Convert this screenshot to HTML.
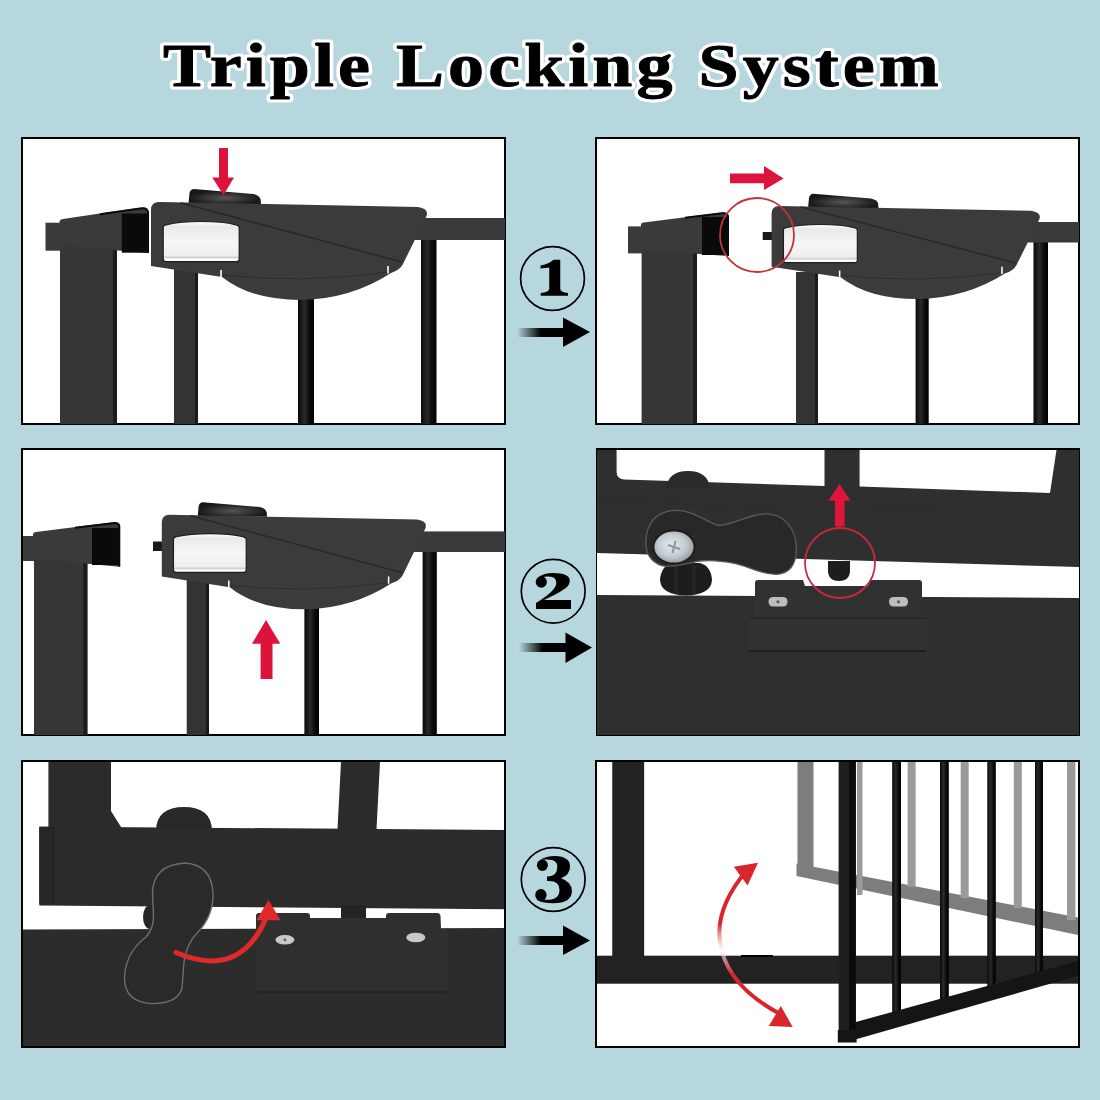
<!DOCTYPE html>
<html><head><meta charset="utf-8">
<style>
html,body{margin:0;padding:0;}
body{width:1100px;height:1100px;background:#b7d7df;overflow:hidden;position:relative;}
svg{position:absolute;left:0;top:0;}
</style></head><body>
<svg width="1100" height="1100" viewBox="0 0 1100 1100">
<defs>
<linearGradient id="shaft" x1="0" x2="1" y1="0" y2="0">
<stop offset="0" stop-color="#000" stop-opacity="0"/>
<stop offset="0.5" stop-color="#000" stop-opacity="1"/>
<stop offset="1" stop-color="#000"/>
</linearGradient>
<linearGradient id="btn" x1="0" x2="0" y1="0" y2="1">
<stop offset="0" stop-color="#ffffff"/>
<stop offset="0.12" stop-color="#e9e9e9"/>
<stop offset="0.5" stop-color="#f6f6f6"/>
<stop offset="0.85" stop-color="#eeeeee"/>
<stop offset="0.9" stop-color="#cfcfcf"/>
<stop offset="0.94" stop-color="#ffffff"/>
<stop offset="1" stop-color="#ffffff"/>
</linearGradient>
<radialGradient id="knobg" cx="0.5" cy="0.6" r="0.5">
<stop offset="0" stop-color="#555"/>
<stop offset="1" stop-color="#181818"/>
</radialGradient>
<g id="housing">
<path d="M37.5,2 L38.5,-9 Q39.5,-13 43,-13 L102,-8 Q108,-7 109.5,-3 L110,2 Z" fill="url(#knobg)"/>
<path d="M0,8 Q0,0 8,0 L267,5 Q279,7 275,15 L252,62 Q249,68 240,71 Q200,97 150,98 Q100,98 71,75 L0,64 Z" fill="#3b3b3b"/>
<path d="M30,1 L251,60" stroke="#272727" stroke-width="1.4" fill="none"/>
<path d="M71,73 Q150,82 238,70" stroke="#2e2e2e" stroke-width="1" fill="none"/>
<path d="M70,68 L70,75.5 M237,64 L237,71.5" stroke="#fff" stroke-width="1.6"/>
<path d="M12.2,25 Q12.2,23 15,22.8 Q30,19.5 50,19.5 Q72,19.5 85,22.8 Q88.2,23.2 88.2,25.5 L88.2,57 Q88.2,59.6 85.5,59.6 L15,59.6 Q12.2,59.6 12.2,57 Z" fill="url(#btn)" stroke="#1c1c1c" stroke-width="1.2"/>
</g>
<linearGradient id="redfade" gradientUnits="userSpaceOnUse" x1="0" y1="865" x2="0" y2="1020">
<stop offset="0" stop-color="#d8262c"/>
<stop offset="0.38" stop-color="#d8262c"/>
<stop offset="0.55" stop-color="#fff" stop-opacity="0.6"/>
<stop offset="0.7" stop-color="#d8262c"/>
<stop offset="1" stop-color="#d8262c"/>
</linearGradient>
<radialGradient id="screwg" cx="0.45" cy="0.45" r="0.6">
<stop offset="0" stop-color="#e4eaee"/>
<stop offset="0.6" stop-color="#c3cbd0"/>
<stop offset="1" stop-color="#8e979c"/>
</radialGradient>
<linearGradient id="rod" x1="0" x2="1" y1="0" y2="0">
<stop offset="0" stop-color="#080808"/>
<stop offset="0.4" stop-color="#2a2a2a"/>
<stop offset="0.7" stop-color="#0c0c0c"/>
<stop offset="1" stop-color="#000"/>
</linearGradient>
</defs>
<rect width="1100" height="1100" fill="#b7d7df"/>
<!-- title -->
<g transform="translate(163,86.2) scale(1.18,1)">
<text x="0" y="0" letter-spacing="3.45" font-family="'Liberation Serif', serif" font-weight="bold" font-size="61" fill="#fff" stroke="#fff" stroke-width="7" stroke-linejoin="round">Triple Locking System</text>
<text x="0" y="0" letter-spacing="3.45" font-family="'Liberation Serif', serif" font-weight="bold" font-size="61" fill="#000" stroke="#000" stroke-width="0.9" stroke-linejoin="round">Triple Locking System</text>
</g>

<!-- panels -->
<g id="p1">
<rect x="22" y="138" width="483" height="286" fill="#fff" stroke="#000" stroke-width="2"/>
<rect x="45.5" y="222.7" width="15" height="28" fill="#3a3a3a"/>
<rect x="60" y="240" width="57" height="184" fill="#363636"/>
<rect x="113" y="246" width="4" height="178" fill="#1c1c1c"/>
<path d="M59.6,221 Q60,219.5 63,219 L140,207.5 Q148,207 148,212 L148,253 L60,245.6 Z" fill="#3a3a3a"/>
<rect x="121.8" y="213.5" width="26.2" height="39.2" fill="#0a0a0a"/>
<path d="M100,214.3 L141,208.5 Q147,207.5 148,212 L148,253" fill="none" stroke="#0c0c0c" stroke-width="2"/>
<rect x="174" y="268" width="24" height="156" fill="#333"/>
<rect x="195" y="268" width="3" height="156" fill="#1a1a1a"/>
<rect x="298" y="292" width="16" height="132" fill="url(#rod)"/>
<rect x="421" y="236" width="15.5" height="188" fill="url(#rod)"/>
<rect x="412" y="218" width="93" height="22" fill="#3a3a3a"/>
<use href="#housing" transform="translate(151,202)"/>
<path d="M219,148 L228,148 L228,177.6 L234,177.6 L223.5,195 L212.3,177.6 L219,177.6 Z" fill="#dc143c"/>
</g>
<g id="p2">
<rect x="596" y="138" width="483" height="286" fill="#fff" stroke="#000" stroke-width="2"/>
<rect x="628" y="226.4" width="14" height="27" fill="#3a3a3a"/>
<rect x="641.6" y="244" width="55.4" height="180" fill="#363636"/>
<rect x="693" y="249" width="4" height="175" fill="#1c1c1c"/>
<path d="M641,225 Q641,223 644,222.6 L722,212.5 Q728,212 728,216 L728,256 L641,250 Z" fill="#3a3a3a"/>
<rect x="702" y="217" width="26" height="38" fill="#0a0a0a"/>
<path d="M685,217.8 L722,213.3 Q727,212.5 728,216 L728,256" fill="none" stroke="#0c0c0c" stroke-width="2"/>
<rect x="796" y="272" width="22" height="152" fill="#333"/>
<rect x="815" y="272" width="3" height="152" fill="#1a1a1a"/>
<rect x="915.6" y="292" width="13.1" height="132" fill="url(#rod)"/>
<rect x="1033.5" y="240" width="14.5" height="184" fill="url(#rod)"/>
<rect x="1028" y="222" width="51" height="20.5" fill="#3a3a3a"/>
<rect x="762.7" y="232" width="12" height="8" fill="#1a1a1a"/>
<use href="#housing" transform="translate(771.6,206) scale(0.972,0.95)"/>
<circle cx="757" cy="235" r="37" fill="none" stroke="#c0353a" stroke-width="1.8"/>
<path d="M730,173.6 L764,173.6 L764,166 L783.6,178.4 L764,190 L764,183.2 L730,183.2 Z" fill="#dc143c"/>
</g>
<g id="p3">
<rect x="22" y="449" width="483" height="286" fill="#fff" stroke="#000" stroke-width="2"/>
<rect x="23" y="536" width="11" height="25" fill="#3a3a3a"/>
<rect x="34" y="552" width="53.4" height="183" fill="#363636"/>
<rect x="83.4" y="557" width="4" height="178" fill="#1c1c1c"/>
<path d="M33,534 Q33,532.5 36,532 L113,522.3 Q119.3,522 119.3,526 L119.3,566.8 L33,558.6 Z" fill="#3a3a3a"/>
<rect x="92" y="528" width="27.3" height="37" fill="#0a0a0a"/>
<path d="M75,527.8 L113,523.2 Q118.5,522.3 119.3,526 L119.3,566.8" fill="none" stroke="#0c0c0c" stroke-width="2"/>
<rect x="186.7" y="578" width="22.3" height="157" fill="#333"/>
<rect x="206" y="578" width="3" height="157" fill="#1a1a1a"/>
<rect x="304.4" y="600" width="14.6" height="135" fill="url(#rod)"/>
<rect x="422.6" y="550" width="14.2" height="185" fill="url(#rod)"/>
<rect x="413" y="531.4" width="92" height="20.6" fill="#3a3a3a"/>
<rect x="153" y="541.5" width="10" height="9.5" fill="#1a1a1a"/>
<use href="#housing" transform="translate(161.8,514.8) scale(0.957,0.965)"/>
<path d="M266,620 L280.3,643.7 L272.5,643.7 L272.5,679 L260.6,679 L260.6,643.7 L252,643.7 Z" fill="#dc143c"/>
</g>
<g id="p4">
<rect x="596" y="448" width="484" height="288" fill="#000"/>
<rect x="597" y="450" width="482" height="285" fill="#2f2f2f"/>
<path d="M616.6,450 L824.5,450 L824.5,486 L624,479.5 Q616.6,479 616.6,472 Z" fill="#fff"/>
<path d="M859.6,450 L1056.5,450 L1050,493 L859.6,486.5 Z" fill="#fff"/>
<path d="M597,553 L1079,567 L1079,598 L597,595 Z" fill="#fff"/>
<path d="M597,503 L1079,508" stroke="#2c2c2c" stroke-width="1"/>
<!-- knob top bump -->
<path d="M666.6,488 Q668,471 688,471 Q708,471 709.8,488 Z" fill="#2a2a2a"/>
<!-- knob bottom disc -->
<path d="M660,580 Q661,566 672,563 L700,563 Q711,566 712,580 Q711,595 686,595.5 Q661,595 660,580 Z" fill="#1d1d1d"/>
<path d="M676,566 L676,593 M694,566 L694,593" stroke="#262626" stroke-width="3"/>
<!-- bolt -->
<path d="M828,561 L850,561 L850,570 Q850,581 839,581 Q828,581 828,570 Z" fill="#1d1d1d"/>
<!-- peanut knob -->
<path d="M645.8,543 C645.8,520 660,510.3 676.4,510.3 C695,510.3 708,524 719.3,525.5 C735,524 750,513.9 766.5,513.9 C785,514 796.4,530 796.4,548.8 C796.4,566 788,574.3 776,574.3 C760,574.3 748,566 734.5,563.4 C722,561 710,560 700,561 C688,563 677,566.3 666,566.3 C654,565 645.8,556 645.8,543 Z" fill="#282828" stroke="#5a5a5a" stroke-width="1.3"/>
<!-- screw -->
<ellipse cx="674" cy="547" rx="21.5" ry="17.5" fill="#1c1c1c"/>
<ellipse cx="674" cy="547" rx="19.6" ry="15.6" fill="url(#screwg)"/>
<path d="M668,545 L680,549 M675.5,541 L672.5,553" stroke="#8c969c" stroke-width="2"/>
<!-- striker plate -->
<path d="M748.7,616 L755,616 L755,583 Q755,580 758,580 L803,580 L805,586 L868,586 L870,580 L919,580 Q922,580 922,583 L922,616 L927,616 L927,651 L748.7,651 Z" fill="#313131"/>
<path d="M748.7,618 L927,618" stroke="#262626" stroke-width="1.5"/>
<path d="M749.5,651 L926,651" stroke="#1f1f1f" stroke-width="2"/>
<rect x="768.5" y="597" width="19" height="9.5" rx="4.5" fill="#bdbdbd"/>
<rect x="889" y="597" width="19" height="9.5" rx="4.5" fill="#bdbdbd"/>
<circle cx="778" cy="601.8" r="1.6" fill="#5a5a5a"/>
<circle cx="898.5" cy="601.8" r="1.6" fill="#5a5a5a"/>
<circle cx="840" cy="563" r="35" fill="none" stroke="#c8283e" stroke-width="1.8"/>
<path d="M839.4,484 L850.5,500.7 L844.6,500.7 L844.6,526.6 L835,526.6 L835,500.7 L828.5,500.7 Z" fill="#e0143c"/>
</g>
<g id="p5">
<rect x="22" y="761" width="483" height="286" fill="#fff" stroke="#000" stroke-width="2"/>
<path d="M48.4,762 L111,762 L111,811 L121,827 L121,830 L48.4,830 Z" fill="#2b2b2b"/>
<path d="M341,762 L380,762 L376.3,833 L337.3,833 Z" fill="#2b2b2b"/>
<path d="M156,830 Q157,807 184,807 Q211,807 212,830 Z" fill="#282828"/>
<path d="M39.3,826.5 L504,830 L504,909.3 L39.3,905.5 Z" fill="#2b2b2b"/>
<rect x="39.3" y="827" width="14.7" height="76.5" fill="#262626"/>
<path d="M54,827 L54,903.5" stroke="#1e1e1e" stroke-width="1"/>
<rect x="341" y="905" width="25" height="26" fill="#232323"/>
<ellipse cx="150" cy="917" rx="7" ry="12" fill="#262626"/>
<path d="M23,929.5 L504,928 L504,1046 L23,1046 Z" fill="#2d2c2c"/>
<!-- plate -->
<path d="M256,992 L256,916 Q256,913 259,913 L307,913 Q310,913 310,916 L310,918 L386,918 L386,916 Q386,913 389,913 L437,913 Q440,913 440.5,916 L441,929 L448,929 L448,992 Z" fill="#2f2f2f"/>
<path d="M257,960 L447,960" stroke="#292929" stroke-width="1.2"/>
<path d="M257,992 L447,992" stroke="#232323" stroke-width="1.5"/>
<ellipse cx="284.9" cy="939.8" rx="9.5" ry="4.8" fill="#c8c8c8"/>
<ellipse cx="415.8" cy="937.5" rx="9.5" ry="4.8" fill="#c8c8c8"/>
<circle cx="284.9" cy="939.8" r="1.5" fill="#666"/>
<!-- peanut -->
<path d="M185,863 Q211,865 213,892 Q214,915 198,932 Q186,944 184,962 L182,988 Q178,1003.6 152,1003.6 Q124,1002 124.5,977 Q126,952 146,937 Q154,928 153.5,915 L152.5,893 Q153,865 185,863 Z" fill="#2b2a2a" stroke="#6e6e6e" stroke-width="1.4"/>
<path d="M176,952.5 Q240,980 266,918" fill="none" stroke="#e02a2a" stroke-width="5" stroke-linecap="round"/>
<path d="M268.5,899.9 L280.6,920.2 L256.4,920.2 Z" fill="#e02a2a"/>
</g>
<g id="p6">
<rect x="596" y="761" width="483" height="286" fill="#fff" stroke="#000" stroke-width="2"/>
<!-- gray gate -->
<g fill="#7d7d7d">
<rect x="797.5" y="762" width="16" height="110"/>
<path d="M796.5,863.5 L1078,917.5 L1078,935 L796.5,876 Z"/>
</g>
<g fill="#9a9a9a">
<rect x="857" y="762" width="5.5" height="133"/>
<rect x="907.6" y="762" width="8" height="125"/>
<rect x="960.7" y="762" width="8" height="136"/>
<rect x="1013.8" y="762" width="8" height="146"/>
<rect x="1067" y="762" width="8.4" height="158"/>
</g>
<!-- black frame -->
<rect x="612.25" y="762" width="31.9" height="194" fill="#222"/>
<rect x="597" y="955.7" width="481" height="28" fill="#222"/>
<path d="M741,956 L773,956" stroke="#000" stroke-width="2"/>
<!-- black leaf -->
<g fill="#151515">
<rect x="892.2" y="762" width="8.8" height="252" fill="url(#rod)"/>
<rect x="940" y="762" width="8.8" height="239" fill="url(#rod)"/>
<rect x="987.3" y="762" width="8.5" height="226" fill="url(#rod)"/>
<rect x="1035" y="762" width="8" height="212" fill="url(#rod)"/>
<path d="M855.8,1022 L1078,961 L1078,975.7 L846.6,1042 Z"/>
<rect x="838.6" y="762" width="17.2" height="280" fill="#1f1f1f"/>
<rect x="849" y="762" width="6.8" height="280" fill="#0b0b0b"/>
<rect x="837.8" y="1030" width="18.8" height="12.5" fill="#151515"/>
</g>
<!-- red double arrow -->
<path d="M747,870 Q715,908 720,942 Q726,985 780,1014" fill="none" stroke="url(#redfade)" stroke-width="4"/>
<path d="M758,862.8 L733.8,866.8 L747.6,885.4 Z" fill="#d8262c"/>
<path d="M792.7,1027 L768.8,1026 L780.8,1006 Z" fill="#d8262c"/>
</g>

<!-- numbers -->
<g fill="none" stroke="#000" stroke-width="1.7">
<circle cx="552.5" cy="278.5" r="31.9"/>
<circle cx="553.2" cy="591.2" r="31.9"/>
<circle cx="553.2" cy="879.5" r="31.9"/>
</g>
<g fill="#000">
<path d="M560.25,259.75 L560.25,289 Q561,292.5 568,293 L568,295.75 L540.75,295.75 L540.75,293 Q548.5,292.5 549.25,289 L549.25,267.5 L540.5,268.4 L540.5,265.5 Q548,264.5 553.5,259.75 Z"/>
<ellipse cx="541.3" cy="582" rx="5.6" ry="5.8"/>
<path d="M536,609 L571,609 L571,600 L544,600 Q563,591 567.5,586.5 Q569.8,583.5 569.8,580.5 Q569.5,573 553,573 Q543,573 537.5,578 L546.8,576.6 Q556.3,575.8 556.3,583 Q556.3,590.5 536,603 Z"/>
<ellipse cx="542.4" cy="865.2" rx="5.5" ry="5.7"/>
<ellipse cx="540.9" cy="895" rx="5.7" ry="6"/>
<path d="M540,859.8 Q546,856 555,856 Q570,856.5 570,866.5 Q570,875 561,878.3 Q571.9,882 571.9,891 Q571.9,903.3 553,903.3 Q543,903.3 537,900 L546.5,899.8 Q559.5,900 559.5,890 Q559.5,881 549,881 L547,881 L547,876.5 L548,876.5 Q557.3,876 557.3,867 Q557.3,859.3 547,859.6 Z"/>
</g>
<!-- arrows -->
<g>
<rect x="517" y="328" width="48" height="9" fill="url(#shaft)"/>
<path d="M563 317.5 L590 332 L563 347 Z" fill="#000"/>
<rect x="519" y="643" width="48" height="9" fill="url(#shaft)"/>
<path d="M565.5 632.5 L592 647.5 L565.5 663 Z" fill="#000"/>
<rect x="517" y="936" width="48" height="9" fill="url(#shaft)"/>
<path d="M563 925.5 L590 940.5 L563 955 Z" fill="#000"/>
</g>
</svg>
</body></html>
